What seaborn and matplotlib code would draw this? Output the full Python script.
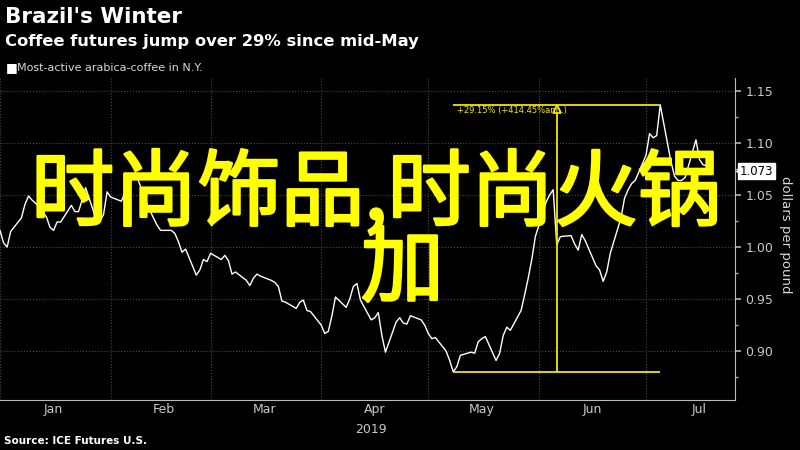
import matplotlib
matplotlib.use('Agg')
import matplotlib.pyplot as plt
import matplotlib.dates as mdates
import matplotlib.patheffects as pe
from matplotlib.ticker import MultipleLocator, FormatStrFormatter, NullFormatter
import seaborn as sns
import pandas as pd

# --- data (one value per business day) ---
dates = pd.bdate_range('2019-01-01', '2019-07-19')
prices = [
    1.016, 1.004, 1.000, 1.015,
    1.028, 1.041, 1.049, 1.045, 1.042,
    1.029, 1.019, 1.016, 1.024, 1.024,
    1.040, 1.034, 1.034, 1.045, 1.057,
    1.026, 1.025, 1.031, 1.053, 1.048,
    1.044, 1.052, 1.059, 1.065, 1.071,
    1.043, 1.035, 1.028, 1.021, 1.016,
    1.016, 1.013, 1.005, 0.995, 0.998,
    0.973, 0.978, 0.988, 0.986, 0.994,
    0.988, 0.992, 0.987, 0.974, 0.976,
    0.968, 0.963, 0.970, 0.974, 0.972,
    0.968, 0.966, 0.962, 0.948, 0.947,
    0.941, 0.947, 0.949, 0.939, 0.938,
    0.925, 0.917, 0.919, 0.934, 0.952,
    0.942, 0.950, 0.962, 0.965, 0.949,
    0.930, 0.932, 0.937, 0.915, 0.899,
    0.928, 0.932, 0.927, 0.926, 0.934,
    0.930, 0.925, 0.917, 0.912, 0.913,
    0.900, 0.891, 0.880, 0.885, 0.896,
    0.899, 0.898, 0.909, 0.912, 0.914,
    0.891, 0.898, 0.915, 0.923, 0.920,
    0.939, 0.954, 0.970, 0.988, 1.010,
    1.043, 1.050, 1.055, 1.002, 1.010,
    1.011, 1.003, 0.997, 1.012, 1.006,
    0.982, 0.978, 0.967, 0.976, 0.994,
    1.028, 1.047, 1.055, 1.061, 1.064,
    1.088, 1.109, 1.105, 1.107, 1.1365,
    1.082, 1.068, 1.064, 1.064, 1.067,
    1.103, 1.084, 1.079, 1.078, 1.073,
]
y_ticks = [0.90, 0.95, 1.00, 1.05, 1.10, 1.15]
move_start = '2019-05-01'
move_label = '+29.15% (+414.45%ann.)'

title = "Brazil's Winter"
subtitle = 'Coffee futures jump over 29% since mid-May'
series_name = 'Most-active arabica-coffee in N.Y.'
source = 'Source: ICE Futures U.S.'
overlay_1 = '时尚饰品,时尚火锅'
overlay_2 = '加'

df = pd.DataFrame({'date': dates, 'price': prices})

sns.set_theme(style='dark')
plt.rcParams['font.family'] = ['DejaVu Sans', 'Noto Sans CJK SC']

fig = plt.figure(figsize=(8, 4.5), dpi=100, facecolor='black')
ax = fig.add_axes([0, 0.111, 0.919, 0.716], facecolor='black')

sns.lineplot(data=df, x='date', y='price', ax=ax, color='white', lw=1.0)

ax.set_xlim(pd.Timestamp('2019-01-01'), pd.Timestamp('2019-07-26'))
ax.set_ylim(0.853, 1.1625)

# y axis on the right
ax.yaxis.tick_right()
ax.set_yticks(y_ticks)
ax.yaxis.set_major_formatter(FormatStrFormatter('%.2f'))
ax.yaxis.set_minor_locator(MultipleLocator(0.025))
ax.set_ylabel('')
ax.set_xlabel('')

# x axis: ticks at month starts, labels mid-month
ax.xaxis.set_major_locator(mdates.MonthLocator())
ax.xaxis.set_major_formatter(NullFormatter())
ax.xaxis.set_minor_locator(mdates.MonthLocator(bymonthday=16))
ax.xaxis.set_minor_formatter(mdates.DateFormatter('%b'))

ax.tick_params(axis='x', which='major', length=5, color='#aaaaaa', direction='out')
ax.tick_params(axis='x', which='minor', length=0, labelsize=9, labelcolor='#c8c8c8', pad=2)
ax.tick_params(axis='y', which='major', length=4, color='#aaaaaa', labelsize=9,
               labelcolor='#c8c8c8', right=True, left=False)
ax.tick_params(axis='y', which='minor', length=2, color='#aaaaaa', right=True, left=False)

ax.grid(True, which='major', axis='both', color='#4a4a4a', ls=':', lw=0.8)
for side in ['left', 'top']:
    ax.spines[side].set_visible(False)
for side in ['right', 'bottom']:
    ax.spines[side].set_visible(True)
    ax.spines[side].set_color('#bbbbbb')
    ax.spines[side].set_linewidth(0.8)

# move annotation (low after May to later high)
yellow = '#f2e600'
after = df[df['date'] >= move_start]
low_row = after.loc[after['price'].idxmin()]
high_row = after.loc[after['price'].idxmax()]
mid_date = low_row['date'] + (high_row['date'] - low_row['date']) / 2
ax.hlines(low_row['price'], low_row['date'], high_row['date'], color=yellow, lw=1.3)
ax.hlines(high_row['price'], low_row['date'], high_row['date'], color=yellow, lw=1.3)
ax.vlines(mid_date, low_row['price'], high_row['price'], color=yellow, lw=1.3)
ax.plot([mid_date], [high_row['price'] - 0.004], marker='^', ms=6,
        mfc='black', mec=yellow, mew=1.3)
ax.text(low_row['date'] + pd.Timedelta(days=1), high_row['price'] - 0.0015, move_label,
        color=yellow, fontsize=6, va='top', ha='left')

# last value tag
last = prices[-1]
ax.text(1.029, last, f'{last:.3f}', transform=ax.get_yaxis_transform(),
        fontsize=8.5, color='black', va='center', ha='center',
        bbox=dict(boxstyle='square,pad=0.15', fc='white', ec='white'))
ax.plot([1.006], [last], marker='<', ms=6, color='white',
        transform=ax.get_yaxis_transform(), clip_on=False)

# texts around the chart
fig.text(0.006, 0.962, title, color='white', fontsize=15.5, fontweight='bold', va='center')
fig.text(0.006, 0.907, subtitle, color='white', fontsize=11.8, fontweight='bold', va='center')
fig.text(0.007, 0.849, '\u25A0', color='white', fontsize=9, va='center')
fig.text(0.021, 0.849, series_name, color='#d8d8d8', fontsize=8, va='center')
fig.text(0.464, 0.046, '2019', color='#c8c8c8', fontsize=9, ha='center', va='center')
fig.text(0.982, 0.478, 'dollars per pound', color='#d8d8d8', fontsize=9.5,
         rotation=270, ha='center', va='center')
fig.text(0.005, 0.02, source, color='white', fontsize=7.5, fontweight='bold', va='center')

# yellow overlay text (slightly thickened strokes)
thick = [pe.withStroke(linewidth=1.8, foreground='#ffff00')]
fig.text(0.47, 0.567, overlay_1, color='#ffff00', fontsize=60,
         family=['Noto Sans CJK SC', 'DejaVu Sans'], ha='center', va='center',
         path_effects=thick)
fig.text(0.503, 0.398, overlay_2, color='#ffff00', fontsize=60,
         family=['Noto Sans CJK SC', 'DejaVu Sans'], ha='center', va='center',
         path_effects=thick)

fig.savefig('out.png', dpi=100, facecolor='black')
plt.close(fig)
